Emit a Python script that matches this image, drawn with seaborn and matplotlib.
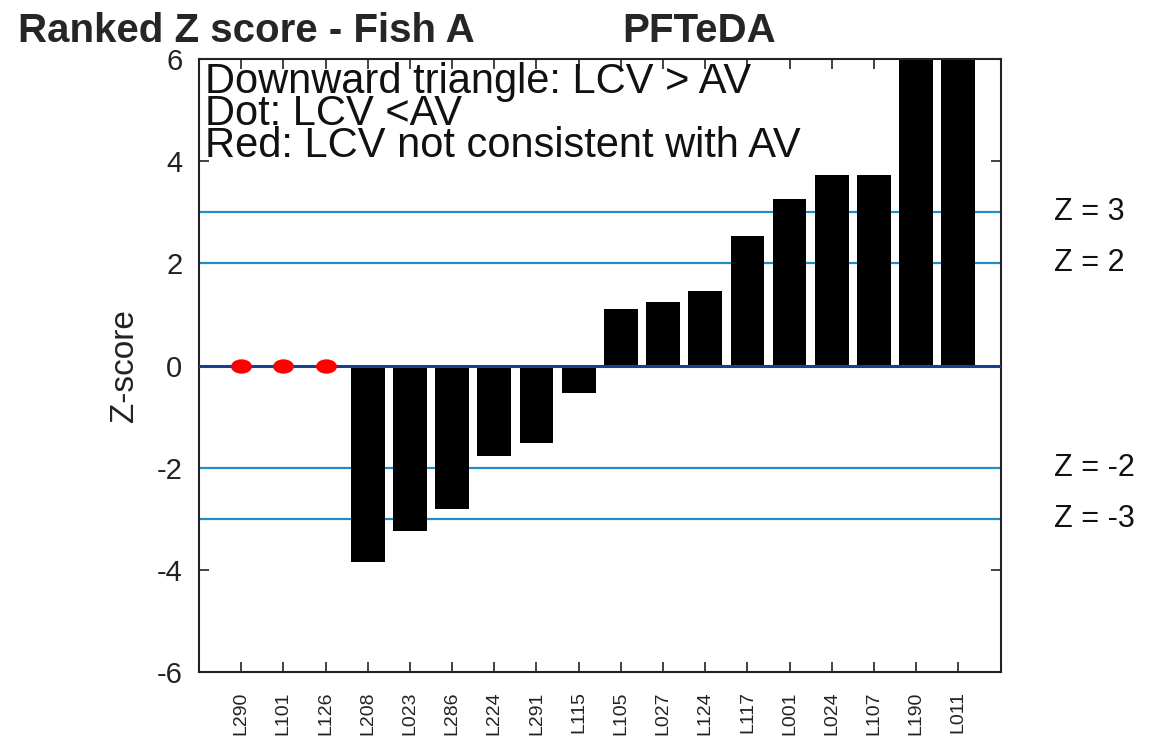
import matplotlib
matplotlib.use('Agg')
import matplotlib.pyplot as plt
import matplotlib.transforms as mtransforms
from matplotlib.path import Path
import seaborn as sns
import pandas as pd

# 数据
labels = ['L290', 'L101', 'L126', 'L208', 'L023', 'L286', 'L224', 'L291', 'L115',
          'L105', 'L027', 'L124', 'L117', 'L001', 'L024', 'L107', 'L190', 'L011']
z_scores = [0, 0, 0, -3.85, -3.23, -2.80, -1.78, -1.51, -0.53,
            1.10, 1.25, 1.45, 2.54, 3.25, 3.72, 3.72, 6.0, 6.0]
red_dot_labels = ['L290', 'L101', 'L126']
z_lines = [3, 2, -2, -3]

df = pd.DataFrame({'Lab': labels, 'Z': z_scores})
dots = df[df['Lab'].isin(red_dot_labels)]

sns.set_style('white')
plt.rcParams['font.family'] = ['Liberation Sans', 'DejaVu Sans']
plt.rcParams['axes.unicode_minus'] = False

fig = plt.figure(figsize=(11.5, 7.42), dpi=100)
ax = fig.add_axes([0.173, 0.0943, 0.697, 0.8262])

# 阈值线
for z in z_lines:
    ax.axhline(z, color='#1f8ec4', lw=1.6, zorder=1)
ax.axhline(0, color='#1a3f8f', lw=2.2, zorder=3)

sns.barplot(data=df, x='Lab', y='Z', order=labels, color='black', width=0.8,
            saturation=1, edgecolor='none', ax=ax, zorder=2)

# 椭圆形红点
ellipse = Path.unit_circle().transformed(mtransforms.Affine2D().scale(1.45, 1.0))
sns.stripplot(data=dots, x='Lab', y='Z', order=labels, jitter=False, color='red',
              size=15, linewidth=0, marker=ellipse, ax=ax, zorder=4)

ax.set_ylim(-6, 6)
ax.set_xlim(-1, len(labels))
ax.set_yticks([-6, -4, -2, 0, 2, 4, 6])
ax.set_xlabel('')
ax.set_ylabel('Z-score', fontsize=24, color='#222222', labelpad=12)

ax.tick_params(axis='y', direction='in', length=7, width=1.2, labelsize=21,
               pad=12, right=True, left=True, colors='#222222')
ax.tick_params(axis='x', direction='in', length=7, width=1.2, labelsize=14,
               pad=14, top=True, bottom=True, labelrotation=90, colors='#222222')
for s in ax.spines.values():
    s.set_visible(True)
    s.set_color('#222222')
    s.set_linewidth(1.5)

# 右侧 Z 标注
trans = mtransforms.blended_transform_factory(ax.transAxes, ax.transData)
for z in z_lines:
    ax.text(1.067, z, f'Z = {z}', transform=trans, fontsize=22, va='center',
            ha='left', color='#111111')

# 图例文字
ax.text(0.008, 0.995, 'Downward triangle: LCV > AV\nDot: LCV <AV\nRed: LCV not consistent with AV',
        transform=ax.transAxes, fontsize=30, va='top', ha='left', linespacing=0.74,
        color='#111111', zorder=5)

fig.text(0.016, 0.943, 'Ranked Z score - Fish A', fontsize=29, fontweight='bold', va='baseline')
fig.text(0.541, 0.943, 'PFTeDA', fontsize=29, fontweight='bold', va='baseline')

plt.savefig('out.png', dpi=100)
